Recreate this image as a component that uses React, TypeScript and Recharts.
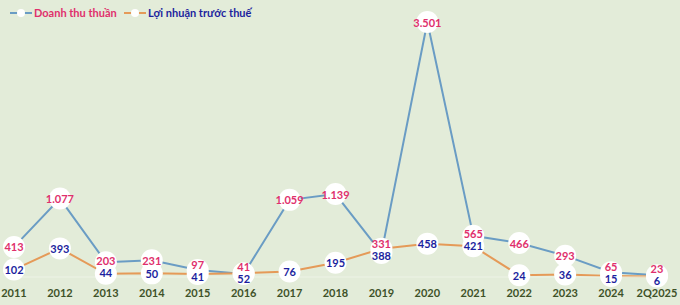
import React from 'react';
import { LineChart, Line, XAxis, YAxis, LabelList } from 'recharts';

const years = ['2011', '2012', '2013', '2014', '2015', '2016', '2017', '2018', '2019', '2020', '2021', '2022', '2023', '2024', '2Q2025'];
const revenue = [413, 1077, 203, 231, 97, 41, 1059, 1139, 331, 3501, 565, 466, 293, 65, 23];
const profit = [102, 393, 44, 50, 41, 52, 76, 195, 388, 458, 421, 24, 36, 15, 6];
const seriesNames = ['Doanh thu thuần', 'Lợi nhuận trước thuế'];

const data = years.map((y, i) => ({ year: y, revenue: revenue[i], profit: profit[i] }));

const BLUE = '#6a9cc4';
const ORANGE = '#e59a58';
const PINK = '#e0306c';
const NAVY = '#1c1f9e';
const BG = '#e3ecd9';
const FONT = 'Lato, "Open Sans", sans-serif';

const H = 305;
const TOP = 22;
const XH = 28;
const MAXV = 3501;
const PX = (H - TOP - XH) / MAXV;

const fmt = (v: number) => v.toLocaleString('de-DE');

const makeLabel = (isRev: boolean) => (props: any) => {
  const { index, value } = props;
  const x = props.x ?? props.viewBox?.x;
  const y = props.y ?? props.viewBox?.y;
  if (x == null || y == null) return null;
  const d = (revenue[index] - profit[index]) * PX;
  let ly = y;
  if (Math.abs(d) < 12) {
    if (isRev) ly = y + d / 2 - 7.5;
    else ly = y - d / 2 + 4.5;
  }
  return (
    <text
      x={x}
      y={ly}
      textAnchor="middle"
      dominantBaseline="central"
      fill={isRev ? PINK : NAVY}
      fontFamily={FONT}
      fontWeight={700}
      fontSize={11}
    >
      {fmt(value)}
    </text>
  );
};

const Dot = (props: any) => {
  const { cx, cy } = props;
  if (cx == null || cy == null) return null;
  return <circle cx={cx} cy={cy} r={11} fill="#ffffff" stroke="none" />;
};

const Tick = (props: any) => {
  const { x, y, payload } = props;
  return (
    <text x={x} y={y + 18} textAnchor="middle" fill="#3e5228" fontFamily={FONT} fontWeight={700} fontSize={11}>
      {payload.value}
    </text>
  );
};

const LegendItem = ({ color, text, textColor, left }: { color: string; text: string; textColor: string; left: number }) => (
  <div style={{ position: 'absolute', left, top: 6, display: 'flex', alignItems: 'center', zIndex: 2 }}>
    <svg width={24} height={10} style={{ marginRight: 1 }}>
      <line x1={1} y1={5} x2={23} y2={5} stroke={color} strokeWidth={2} />
      <circle cx={12} cy={5} r={4} fill="#ffffff" />
    </svg>
    <span style={{ color: textColor, fontFamily: FONT, fontWeight: 700, fontSize: 11, whiteSpace: 'nowrap' }}>{text}</span>
  </div>
);

export default function App() {
  return (
    <div style={{ position: 'relative', width: 680, height: H, background: BG, overflow: 'hidden' }}>
      <style>{`body{margin:0}`}</style>
      <LegendItem color={BLUE} text={seriesNames[0]} textColor={PINK} left={9} />
      <LegendItem color={ORANGE} text={seriesNames[1]} textColor={NAVY} left={123} />
      <LineChart width={680} height={H} data={data} margin={{ top: TOP, right: 23, bottom: 0, left: 14 }}>
        <XAxis
          dataKey="year"
          height={XH}
          interval={0}
          tickLine={false}
          tickSize={0}
          axisLine={{ stroke: '#edf3e6', strokeWidth: 1 }}
          tick={<Tick />}
          padding={{ left: 0, right: 0 }}
        />
        <YAxis hide domain={[0, MAXV]} width={0} />
        <Line type="linear" dataKey="revenue" name={seriesNames[0]} stroke={BLUE} strokeWidth={2} dot={<Dot />} activeDot={false} isAnimationActive={false} />
        <Line type="linear" dataKey="profit" name={seriesNames[1]} stroke={ORANGE} strokeWidth={2} dot={<Dot />} activeDot={false} isAnimationActive={false} />
        <Line type="linear" dataKey="revenue" stroke="none" dot={false} activeDot={false} legendType="none" isAnimationActive={false}>
          <LabelList dataKey="revenue" content={makeLabel(true)} />
        </Line>
        <Line type="linear" dataKey="profit" stroke="none" dot={false} activeDot={false} legendType="none" isAnimationActive={false}>
          <LabelList dataKey="profit" content={makeLabel(false)} />
        </Line>
      </LineChart>
    </div>
  );
}
